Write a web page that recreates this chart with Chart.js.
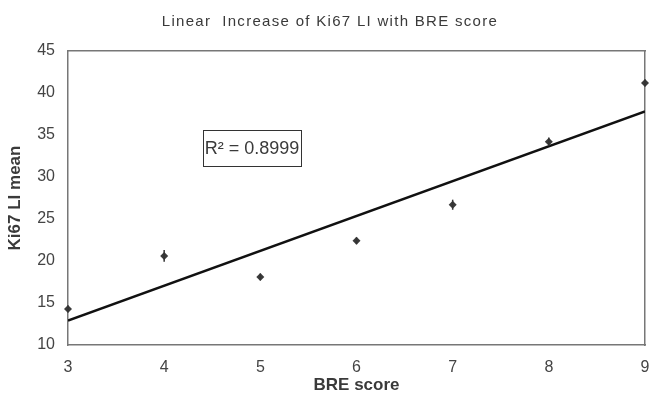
<!DOCTYPE html>
<html>
<head>
<meta charset="utf-8">
<script src="https://cdn.jsdelivr.net/npm/chart.js@4/dist/chart.umd.min.js"></script>
<style>
  html, body { margin: 0; padding: 0; background: #fff; }
  #wrap { width: 649px; height: 396px; position: relative; }
</style>
</head>
<body>
<div id="wrap"><canvas id="chart" width="649" height="396"></canvas></div>
<script>
  // ============= DATA =============
  const breScores = [3, 4, 5, 6, 7, 8, 9];
  const ki67Means = [14.3, 20.6, 18.1, 22.4, 26.7, 34.2, 41.2];
  const ki67Errors = [0.4, 0.7, 0.4, 0.4, 0.6, 0.5, 0.4];
  const trendX = [3, 9];
  const trendY = [12.9, 37.8];
  const yTicks = [10, 15, 20, 25, 30, 35, 40, 45];
  const chartTitle = 'Linear  Increase of Ki67 LI with BRE score';
  const rSquaredLabel = 'R² = 0.8999';

  const FONT = '"Liberation Sans", Arial, sans-serif';
  const INK = '#3a3a3a';

  // title (wide letter spacing), small error bars and the R² box
  const extras = {
    id: 'extras',
    afterDatasetsDraw(chart) {
      const { ctx, scales: { x, y }, chartArea } = chart;
      ctx.save();
      ctx.strokeStyle = '#333';
      ctx.lineWidth = 1.5;
      breScores.forEach((b, i) => {
        const px = x.getPixelForValue(b);
        ctx.beginPath();
        ctx.moveTo(px, y.getPixelForValue(ki67Means[i] + ki67Errors[i]));
        ctx.lineTo(px, y.getPixelForValue(ki67Means[i] - ki67Errors[i]));
        ctx.stroke();
      });

      // R² label box
      const bx = chartArea.left + 135, by = chartArea.top + 79;
      const bw = 98, bh = 36;
      ctx.fillStyle = '#fff';
      ctx.fillRect(bx, by, bw, bh);
      ctx.strokeStyle = '#333';
      ctx.lineWidth = 1;
      ctx.strokeRect(bx + 0.5, by + 0.5, bw, bh);
      ctx.font = '18px ' + FONT;
      ctx.fillStyle = INK;
      ctx.textBaseline = 'middle';
      ctx.textAlign = 'center';
      ctx.fillText(rSquaredLabel, bx + bw / 2, by + bh / 2 + 1);

      // chart title
      ctx.font = '15px ' + FONT;
      ctx.letterSpacing = '1.3px';
      ctx.fillText(chartTitle, 330, 22);
      ctx.restore();
    }
  };

  new Chart(document.getElementById('chart'), {
    type: 'scatter',
    data: {
      datasets: [
        {
          label: 'Ki67 LI mean',
          data: breScores.map((b, i) => ({ x: b, y: ki67Means[i] })),
          pointStyle: 'rectRot',
          pointRadius: 4,
          backgroundColor: '#3a3a3a',
          borderColor: '#3a3a3a',
          borderWidth: 0,
          clip: false
        },
        {
          label: 'Trend',
          type: 'line',
          data: trendX.map((t, i) => ({ x: t, y: trendY[i] })),
          borderColor: '#111',
          borderWidth: 2.5,
          pointRadius: 0,
          fill: false
        }
      ]
    },
    options: {
      responsive: false,
      animation: false,
      layout: { padding: { top: 51, right: 3, left: 0, bottom: 0 } },
      plugins: {
        legend: { display: false },
        tooltip: { enabled: false },
        title: { display: false }
      },
      scales: {
        x: {
          type: 'linear',
          min: 3,
          max: 9,
          ticks: { stepSize: 1, color: '#444', font: { family: FONT, size: 16 }, padding: 8 },
          grid: { display: false, drawTicks: true, tickLength: 5, color: '#777' },
          border: { color: '#777', width: 1.5 },
          title: {
            display: true,
            text: 'BRE score',
            color: INK,
            font: { family: FONT, size: 17, weight: 'bold' },
            padding: { top: 0, bottom: 0 }
          },
          afterFit(scale) {
            scale.height = 51;
            scale.paddingLeft = 0;
            scale.paddingRight = 0;
          }
        },
        y: {
          min: 10,
          max: 45,
          afterBuildTicks(scale) { scale.ticks = yTicks.map(v => ({ value: v })); },
          ticks: { color: '#444', font: { family: FONT, size: 16 }, padding: 9 },
          grid: { display: false, drawTicks: true, tickLength: 4, color: '#777' },
          border: { color: '#777', width: 1.5 },
          title: {
            display: true,
            text: 'Ki67 LI mean',
            color: INK,
            font: { family: FONT, size: 17, weight: 'bold' },
            padding: { top: 5, bottom: 0 }
          },
          afterFit(scale) {
            scale.width = 68;
            scale.paddingTop = 0;
            scale.paddingBottom = 0;
          }
        },
        x2: {
          type: 'linear', position: 'top', display: true,
          ticks: { display: false }, grid: { display: false, drawTicks: false },
          border: { color: '#777', width: 1.5 },
          afterFit(scale) { scale.height = 0; }
        },
        y2: {
          type: 'linear', position: 'right', display: true,
          ticks: { display: false }, grid: { display: false, drawTicks: false },
          border: { color: '#777', width: 1.5 },
          afterFit(scale) { scale.width = 0; }
        }
      }
    },
    plugins: [extras]
  });
</script>
</body>
</html>
